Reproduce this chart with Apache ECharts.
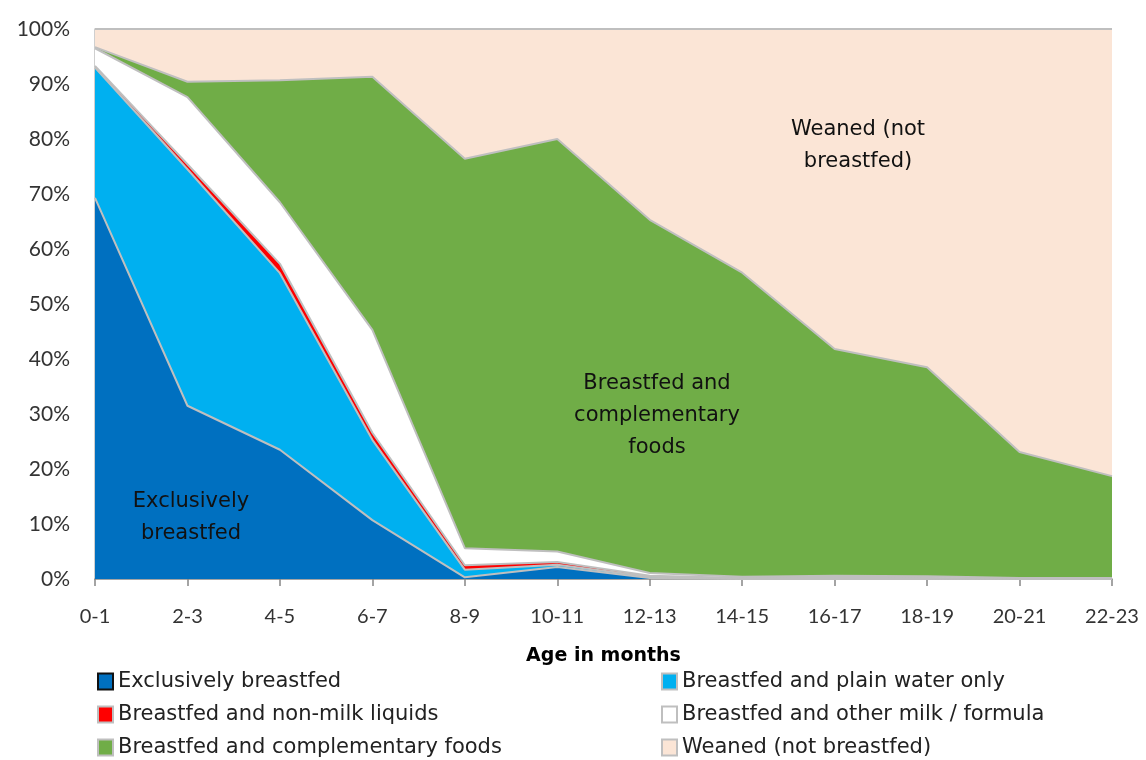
<!DOCTYPE html>
<html><head><meta charset="utf-8">
<script src="https://cdn.jsdelivr.net/npm/echarts@6/dist/echarts.min.js"></script>
<style>html,body{margin:0;padding:0;background:#fff}#c{width:1146px;height:760px}</style>
</head><body><div id="c"></div>
<script>
const categories = ['0-1','2-3','4-5','6-7','8-9','10-11','12-13','14-15','16-17','18-19','20-21','22-23'];
const exclusive  = [69.3, 31.5, 23.5, 10.7, 0.3, 2.2, 0.2, 0, 0, 0, 0, 0];
const water      = [23.7, 43.0, 32.1, 14.6, 1.4, 0.4, 0.2, 0.1, 0.1, 0.1, 0, 0];
const nonMilk    = [0.3, 0.9, 1.7, 1.3, 0.8, 0.5, 0.2, 0.1, 0.1, 0.1, 0, 0];
const otherMilk  = [3.2, 12.2, 11.2, 18.7, 3.1, 1.9, 0.5, 0.2, 0.4, 0.3, 0.2, 0.2];
const complementary = [0.2, 2.8, 22.2, 46.0, 70.8, 75.0, 64.2, 55.3, 41.2, 38.0, 22.9, 18.5];
const weaned     = [3.3, 9.6, 9.3, 8.7, 23.6, 20.0, 34.7, 44.3, 58.2, 61.5, 76.9, 81.3];
const yTicks = [0,10,20,30,40,50,60,70,80,90,100];

const names = ['Exclusively breastfed','Breastfed and plain water only','Breastfed and non-milk liquids','Breastfed and other milk / formula','Breastfed and complementary foods','Weaned (not breastfed)'];
const colors = ['#0070c0','#00b0f0','#ff0000','#ffffff','#70ad47','#fbe5d6'];
const datas = [exclusive, water, nonMilk, otherMilk, complementary, weaned];
const TICKFONT = 'Lato';
const TEXTFONT = 'DejaVu Sans';

const legendBase = {orient:'vertical',top:671,height:140,padding:0,itemGap:12,itemWidth:15,itemHeight:16,icon:'rect',
  textStyle:{fontSize:21,color:'#222',fontFamily:TEXTFONT},selectedMode:false};

const chart = echarts.init(document.getElementById('c'));
chart.setOption({
  animation:false,
  grid:{left:95,right:34,top:29,bottom:181,containLabel:false},
  xAxis:{type:'category',data:categories,boundaryGap:false,
    axisLine:{lineStyle:{color:'#868686',width:1.5}},
    axisTick:{show:true,alignWithLabel:true,length:7,lineStyle:{color:'#868686',width:1.5}},
    axisLabel:{color:'#333',fontSize:20,fontFamily:TICKFONT,margin:28,interval:0},
    name:'Age in months',nameLocation:'middle',nameGap:68,
    nameTextStyle:{fontSize:19,fontWeight:'bold',color:'#000',fontFamily:TEXTFONT}},
  yAxis:{type:'value',min:0,max:100,interval:10,
    axisLine:{show:true,lineStyle:{color:'#bfbfbf',width:1.5}},
    axisTick:{show:false},splitLine:{show:false},
    axisLabel:{color:'#333',fontSize:21,fontFamily:TICKFONT,margin:25,formatter:v=>yTicks.includes(v)?v+'%':''}},
  legend:[
    Object.assign({left:97,data:[names[0],names[2],names[4]]}, legendBase),
    Object.assign({left:661,data:[names[1],names[3],names[5]]}, legendBase)
  ],
  graphic:[
    {type:'text',z:100,style:{text:'Exclusively\nbreastfed',x:191,y:486,align:'center',fontSize:21,lineHeight:32,fill:'#111',fontFamily:TEXTFONT}},
    {type:'text',z:100,style:{text:'Breastfed and\ncomplementary\nfoods',x:657,y:368,align:'center',fontSize:21,lineHeight:32,fill:'#111',fontFamily:TEXTFONT}},
    {type:'text',z:100,style:{text:'Weaned (not\nbreastfed)',x:858,y:114,align:'center',fontSize:21,lineHeight:32,fill:'#111',fontFamily:TEXTFONT}}
  ],
  series: datas.map((d,i)=>({
    name:names[i],type:'line',stack:'total',data:d,showSymbol:false,symbol:'none',
    lineStyle:{color:'#bfbfbf',width:2},
    itemStyle:{color:colors[i],borderColor:i===0?'#111':'#bfbfbf',borderWidth:2},
    areaStyle:{color:colors[i],opacity:1}
  }))
});
</script></body></html>
